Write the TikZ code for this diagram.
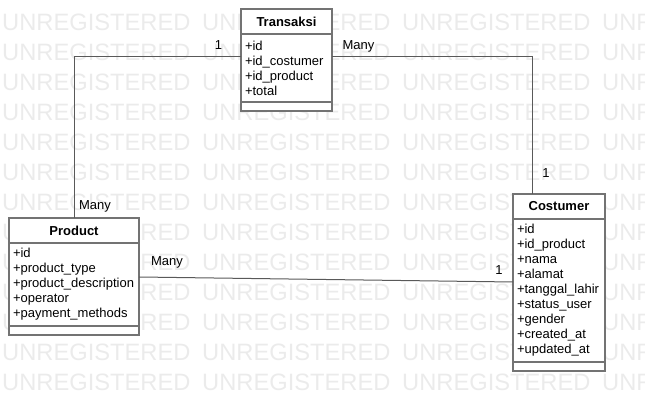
\documentclass[tikz,border=0pt]{standalone}
\usepackage{fontspec}
\setmainfont{Liberation Sans}
\usetikzlibrary{positioning}

\begin{document}
\begin{tikzpicture}[
    x=1pt, y=-1pt,
    watermark/.style={anchor=base west, inner sep=0pt, text=black!8, font=\fontsize{23.7}{24}\selectfont},
    classhead/.style={rectangle, draw=black!55, line width=1.8pt, fill=white, outer sep=0pt, inner sep=0pt, minimum width=#1, minimum height=25pt, font=\fontsize{13}{15}\selectfont\bfseries},
    classattr/.style={rectangle, draw=black!55, line width=1.8pt, fill=white, outer sep=0pt, inner xsep=4pt, inner ysep=0pt, text width=#1, align=left, font=\fontsize{13}{15}\selectfont},
    classfoot/.style={rectangle, draw=black!55, line width=1.8pt, fill=white, outer sep=0pt, inner sep=0pt, minimum width=#1, minimum height=9pt},
    mult/.style={anchor=base, inner sep=0pt, font=\fontsize{13}{15}\selectfont},
    assoc/.style={draw=black!65, line width=1pt}
]
\useasboundingbox (0,0) rectangle (645,411);

% Watermark
\begin{scope}
\clip (0,0) rectangle (645,411);
\foreach \row in {0,...,12}
  \foreach \col in {0,...,3}
    \node[watermark] (wm-\row-\col) at (2+200*\col, 30.5+30*\row) {UNREGISTERED};
\end{scope}

% Transaksi
\node[classhead=91pt, anchor=north west] (transaksi) at (241,9) {Transaksi};
\node[classattr=83pt, minimum height=68pt, below=0pt of transaksi] (transaksiattr) {+id\\+id\_costumer\\+id\_product\\+total};
\node[classfoot=91pt, below=0pt of transaksiattr] (transaksifoot) {};

% Product
\node[classhead=130pt, anchor=north west] (product) at (9,218) {Product};
\node[classattr=122pt, minimum height=83pt, below=0pt of product] (productattr) {+id\\+product\_type\\+product\_description\\+operator\\+payment\_methods};
\node[classfoot=130pt, below=0pt of productattr] (productfoot) {};

% Costumer
\node[classhead=92pt, anchor=north west] (costumer) at (513,194) {Costumer};
\node[classattr=84pt, minimum height=143pt, below=0pt of costumer] (costumerattr) {+id\\+id\_product\\+nama\\+alamat\\+tanggal\_lahir\\+status\_user\\+gender\\+created\_at\\+updated\_at};
\node[classfoot=92pt, below=0pt of costumerattr] (costumerfoot) {};

% Associations
\draw[assoc] ([yshift=-23pt]transaksiattr.north west) -| (product.north);
\draw[assoc] ([yshift=-23pt]transaksiattr.north east) -| ([xshift=19pt]costumer.north west);
\draw[assoc] ([yshift=-34pt]productattr.north east) -- ([yshift=-63pt]costumerattr.north west);

% Multiplicities
\node[mult] (m1) at (218.5,49.5) {1};
\node[mult] (m2) at (95,210) {Many};
\node[mult] (m3) at (358.5,50) {Many};
\node[mult] (m4) at (546,177.3) {1};
\node[mult] (m5) at (167,265.5) {Many};
\node[mult] (m6) at (499,275) {1};

\end{tikzpicture}
\end{document}
